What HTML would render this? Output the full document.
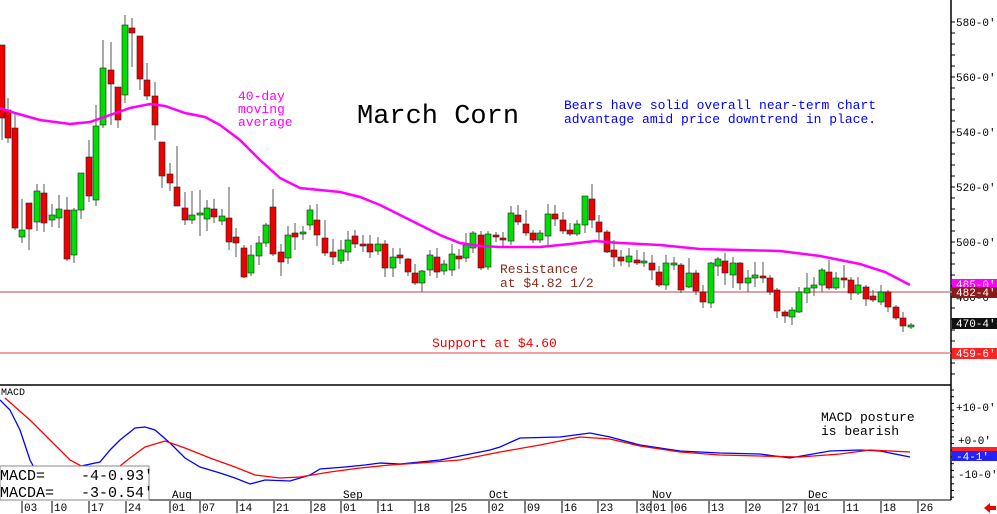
<!DOCTYPE html>
<html><head><meta charset="utf-8"><style>
body{margin:0;background:#fff;}
svg{display:block;font-family:"Liberation Mono",monospace;}
</style></head><body>
<svg id="s" width="997" height="514" xmlns="http://www.w3.org/2000/svg">
<rect width="997" height="514" fill="#fff"/>
<!-- frames -->
<line x1="951" y1="0" x2="951" y2="500" stroke="#000" stroke-width="1.5"/>
<line x1="0" y1="385" x2="951" y2="385" stroke="#000" stroke-width="1.5"/>
<line x1="0" y1="500" x2="951" y2="500" stroke="#000" stroke-width="1"/>
<!-- horizontal lines -->
<line x1="0" y1="292" x2="997" y2="292" stroke="#c88" stroke-width="1.5"/>
<line x1="0" y1="353" x2="951" y2="353" stroke="#f08080" stroke-width="1.5"/>
<g id="ticks"></g>
<g id="candles"></g>
<polyline fill="none" stroke="#f0f" stroke-width="2.5" points="0,108 15,113 40,120 70,124 90,122 110,115 130,108 150,104 165,106 185,113 205,117 220,125 240,140 260,160 280,178 300,188 320,190 340,192 360,197 380,205 400,215 420,225 440,235 460,243 480,246 500,247 540,247 570,244 595,241 620,243 660,245 700,249 740,250 780,251 820,256 860,264 885,272 910,285"/>
<!-- MACD -->
<polyline fill="none" stroke="#00f" stroke-width="1.3" points="0,400 10,410 20,430 30,460 38,475 100,462 110,450 120,440 135,428 145,427 155,430 170,443 185,458 200,467 220,473 235,478 250,484 265,480 290,481 310,475 320,469 345,467 365,465 380,463 400,464 420,462 440,460 470,454 490,450 500,447 520,438 560,437 590,433 610,437 640,445 680,451 720,453 760,454 790,458 830,451 860,450 880,451 910,457"/>
<polyline fill="none" stroke="#f00" stroke-width="1.3" points="5,398 30,420 50,440 70,460 100,476 115,470 130,458 145,447 165,441 185,448 210,458 235,467 255,475 280,478 300,477 330,472 360,468 390,465 420,463 460,460 500,452 540,445 580,437 610,439 640,446 680,452 720,455 760,456 800,457 840,454 870,450 910,452"/>
<text x="1" y="395" font-size="10" fill="#000">MACD</text>
<rect x="0" y="466" width="149" height="34" fill="#fff" stroke="#888"/>
<text x="0" y="480" font-size="15" fill="#000" xml:space="preserve">MACD=    -4-0.93'</text>
<text x="0" y="497" font-size="15" fill="#000" xml:space="preserve">MACDA=   -3-0.54'</text>
<text x="821" y="421" font-size="13" fill="#000">MACD posture</text>
<text x="821" y="435" font-size="13" fill="#000">is bearish</text>
<!-- annotations -->
<text x="357" y="123" font-size="27" fill="#000">March Corn</text>
<text x="564" y="109" font-size="13" fill="#00f">Bears have solid overall near-term chart</text>
<text x="564" y="123" font-size="13" fill="#00f">advantage amid price downtrend in place.</text>
<text x="238" y="100" font-size="13" fill="#f0f">40-day</text>
<text x="238" y="113" font-size="13" fill="#f0f">moving</text>
<text x="238" y="126" font-size="13" fill="#f0f">average</text>
<text x="500" y="273" font-size="13" fill="#8b2a1a">Resistance</text>
<text x="500" y="287" font-size="13" fill="#8b2a1a">at $4.82 1/2</text>
<text x="432" y="347" font-size="13" fill="#e00">Support at $4.60</text>
<!-- right axis -->
<g font-size="11" fill="#000">
<text x="956" y="26">580-0'</text><text x="956" y="81">560-0'</text><text x="956" y="136">540-0'</text>
<text x="956" y="191">520-0'</text><text x="956" y="246">500-0'</text><text x="956" y="301">480-0'</text>
<text x="956" y="411">+10-0'</text><text x="958" y="444">+0-0'</text><text x="958" y="478">-10-0'</text>
</g>
<rect x="952" y="279" width="45" height="10" fill="#f0f"/><text x="956" y="288" font-size="11" fill="#fff">485-0'</text>
<rect x="952" y="287" width="45" height="11" fill="#8b1a1a"/><text x="956" y="296" font-size="11" fill="#fff">482-4'</text>
<rect x="952" y="318" width="45" height="11" fill="#111"/><text x="956" y="327" font-size="11" fill="#fff">470-4'</text>
<rect x="952" y="348" width="45" height="11" fill="#f22"/><text x="956" y="357" font-size="11" fill="#fff">459-6'</text>
<rect x="952" y="447" width="45" height="5" fill="#f22"/>
<rect x="952" y="451" width="45" height="10" fill="#22f"/><text x="956" y="460" font-size="11" fill="#fff">-4-1'</text>
<path d="M984,508 l6,-5 v3 h6 v4 h-6 v3 z" fill="#e00"/>
<g id="dates" font-size="11" fill="#000"></g>
</svg>
<script>
var ns="http://www.w3.org/2000/svg";
function el(p,t,a,txt){var e=document.createElementNS(ns,t);for(var k in a)e.setAttribute(k,a[k]);if(txt)e.textContent=txt;p.appendChild(e);return e;}
var C=[[2,45,118,45,140,'r'],[8,110,138,98,143,'r'],[15,128,228,112,230,'r'],[22,230,237,199,243,'g'],[29,203,229,203,250,'r'],[37,191,222,184,231,'g'],[44,193,223,184,232,'r'],[52,215,220,204,227,'g'],[59,209,218,195,228,'g'],[67,210,259,197,261,'r'],[74,210,255,208,263,'g'],[81,173,210,173,219,'g'],[89,157,196,140,202,'r'],[96,126,200,105,206,'g'],[103,68,125,40,128,'g'],[111,70,84,42,125,'r'],[118,87,120,87,128,'r'],[125,25,95,15,103,'g'],[132,28,33,18,67,'r'],[140,36,79,36,90,'r'],[147,80,96,63,100,'r'],[155,96,125,82,140,'r'],[162,142,176,142,188,'r'],[170,174,183,163,191,'r'],[177,187,206,146,206,'r'],[185,208,220,192,225,'r'],[192,215,220,191,224,'g'],[200,213,215,190,236,'g'],[207,208,219,200,231,'g'],[214,209,217,199,223,'r'],[222,216,221,209,225,'g'],[229,218,242,187,250,'r'],[236,237,243,228,257,'r'],[244,248,277,245,278,'r'],[251,255,273,245,276,'g'],[259,243,256,236,265,'g'],[266,225,243,223,247,'g'],[273,207,254,189,256,'r'],[281,252,262,244,276,'r'],[288,235,258,226,264,'g'],[295,233,237,223,250,'r'],[303,232,234,226,240,'g'],[310,210,225,205,230,'g'],[317,220,235,204,246,'r'],[325,238,253,220,256,'r'],[333,252,257,239,265,'r'],[341,250,261,240,264,'g'],[348,240,252,231,261,'g'],[355,236,244,230,248,'r'],[363,244,246,235,252,'r'],[370,244,252,235,258,'r'],[378,244,251,237,255,'g'],[385,244,268,240,277,'r'],[393,257,268,248,277,'g'],[400,255,258,248,264,'r'],[408,259,272,258,276,'r'],[415,273,283,264,285,'r'],[422,271,283,270,292,'g'],[430,255,270,250,276,'g'],[437,257,272,248,278,'r'],[444,264,271,260,275,'g'],[452,254,270,244,276,'g'],[459,256,259,249,269,'r'],[466,245,258,233,262,'g'],[473,233,248,231,253,'g'],[481,235,268,231,270,'r'],[488,234,267,231,270,'g'],[496,235,237,232,242,'r'],[503,238,240,232,246,'r'],[511,213,241,206,245,'g'],[518,215,222,205,225,'r'],[526,224,233,210,236,'r'],[533,233,240,230,243,'r'],[540,233,240,230,243,'g'],[548,214,236,204,247,'g'],[555,214,219,205,226,'r'],[563,220,231,212,234,'r'],[570,230,234,223,236,'r'],[577,224,234,220,236,'g'],[585,196,225,196,233,'g'],[592,199,220,184,228,'r'],[599,222,232,215,240,'r'],[607,232,252,230,253,'r'],[614,250,257,240,267,'r'],[621,257,261,250,266,'r'],[629,256,262,248,267,'g'],[637,260,263,250,265,'r'],[644,261,263,252,267,'g'],[652,263,270,255,280,'r'],[659,272,285,266,287,'r'],[666,263,285,255,290,'g'],[674,263,265,257,270,'g'],[681,265,290,263,293,'r'],[689,273,287,258,288,'g'],[696,273,291,270,295,'r'],[703,292,302,285,308,'r'],[711,263,303,262,308,'g'],[718,259,266,257,276,'g'],[725,261,273,253,285,'r'],[733,263,275,257,288,'g'],[740,263,283,262,290,'r'],[748,278,283,270,292,'g'],[755,275,278,262,287,'g'],[763,276,278,262,283,'r'],[770,278,292,275,295,'r'],[777,290,311,288,318,'r'],[785,312,316,310,323,'r'],[792,310,317,307,325,'g'],[799,292,312,287,313,'g'],[807,288,293,273,303,'g'],[814,285,288,277,296,'g'],[822,270,285,268,292,'g'],[829,272,288,260,290,'r'],[836,278,288,272,290,'g'],[844,278,280,265,288,'r'],[851,280,293,277,300,'r'],[858,285,293,277,295,'g'],[866,287,299,285,306,'r'],[873,296,300,290,302,'r'],[881,292,302,285,305,'g'],[888,292,307,290,312,'r'],[896,307,318,305,320,'r'],[903,318,326,312,332,'r'],[911,325,327,323,329,'g']];
var g=document.getElementById('candles');
C.forEach(function(c){var x=c[0];
el(g,'line',{x1:x,x2:x,y1:c[3],y2:c[4],stroke:'#555','stroke-width':1});
var h=Math.max(2,c[2]-c[1]);
el(g,'rect',{x:x-3,y:c[1],width:6,height:h,fill:c[5]=='r'?'#e00':'#0d0',stroke:'#222','stroke-width':0.6});});
var t=document.getElementById('ticks');
for(var y=22;y<385;y+=11)el(t,'line',{x1:951,x2:955,y1:y,y2:y,stroke:'#000'});
for(var y=390;y<500;y+=6.7)el(t,'line',{x1:951,x2:954,y1:y,y2:y,stroke:'#000'});
var d=document.getElementById('dates');
[[22,'03'],[52,'10'],[89,'17'],[126,'24'],[170,'01'],[200,'07'],[237,'14'],[274,'21'],[311,'28'],[341,'01'],[378,'11'],[415,'18'],[452,'25'],[489,'02'],[525,'09'],[562,'16'],[598,'23'],[637,'30'],[651,'01'],[672,'06'],[709,'13'],[746,'20'],[783,'27'],[805,'01'],[844,'11'],[881,'18'],[918,'26']].forEach(function(a){
el(d,'line',{x1:a[0],x2:a[0],y1:501,y2:513,stroke:'#000'});el(d,'text',{x:a[0]+2,y:511},a[1]);});
[[172,'Aug'],[343,'Sep'],[489,'Oct'],[652,'Nov'],[808,'Dec']].forEach(function(a){el(d,'text',{x:a[0],y:498},a[1]);});
</script>
</body></html>
